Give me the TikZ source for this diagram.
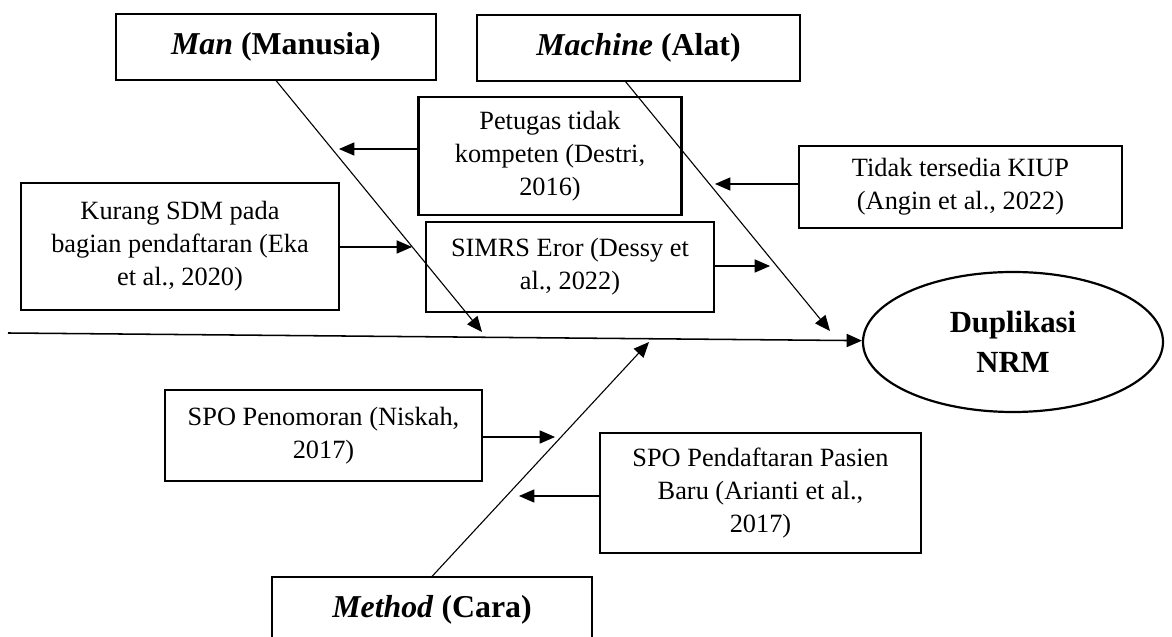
\documentclass[tikz,border=0pt]{standalone}
\usepackage{fontspec}
\setmainfont{Liberation Serif}
\usetikzlibrary{arrows.meta}
\usetikzlibrary{shapes.geometric}
\newcommand{\px}{0.016cm}
\tikzset{
  head/.style={draw,line width=0.5pt,minimum height=66*\px,inner sep=0pt,font=\fontsize{14.5}{17}\selectfont\bfseries},
  cause/.style={draw,line width=1pt,align=center,inner sep=0pt,font=\fontsize{12}{15}\selectfont},
  bone/.style={line width=0.5pt,-{Triangle[length=7pt,width=6pt]}},
}

\begin{document}
\begin{tikzpicture}[x=0.016cm,y=-0.016cm]
	\useasboundingbox (0,0) rectangle (1172,637);
	% categories and effect
	\node[head,minimum width=320*\px] (man) at (276,47) {\textit{Man} (Manusia)};
	\node[head,minimum width=323*\px] (machine) at (638.5,48) {\textit{Machine} (Alat)};
	\node[head,minimum width=320*\px] (method) at (432,610) {\textit{Method} (Cara)};
	\node[draw,ellipse,line width=1pt,minimum width=300*\px,minimum height=140*\px,inner sep=0pt,align=center,font=\fontsize{14}{18}\selectfont\bfseries] (dup) at (1013,342) {Duplikasi\\NRM};
	% causes
	\node[cause,minimum width=263*\px,minimum height=118*\px] (petugas) at (550,156) {Petugas tidak\\kompeten (Destri,\\2016)};
	\node[cause,minimum width=323*\px,minimum height=82*\px] (tidak) at (960.5,187) {Tidak tersedia KIUP\\(Angin et al., 2022)};
	\node[cause,minimum width=318*\px,minimum height=127*\px] (kurang) at (180,246.5) {Kurang SDM pada\\bagian pendaftaran (Eka\\et al., 2020)};
	\node[cause,minimum width=288*\px,minimum height=90*\px] (simrs) at (570,267) {SIMRS Eror (Dessy et\\al., 2022)};
	\node[cause,minimum width=317*\px,minimum height=91*\px] (penomoran) at (323.5,435.5) {SPO Penomoran (Niskah,\\2017)};
	\node[cause,minimum width=321*\px,minimum height=120*\px] (pendaftaran) at (760.5,493) {SPO Pendaftaran Pasien\\Baru (Arianti et al.,\\2017)};
	% bones
	\coordinate (tail) at (8,333);
	\coordinate (mantip) at (482,332);
	\coordinate (machtip) at (830,331);
	\coordinate (methtip) at (649,342);
	\draw[bone,line width=0.7pt] (tail) -- (dup);
	\draw[bone] (man.south) -- (mantip);
	\draw[bone] ([xshift=-13*\px]machine.south) -- (machtip);
	\draw[bone] (method.north) -- (methtip);
	% small arrows
	\coordinate (p1) at (339,149);
	\coordinate (t1) at (715,184);
	\coordinate (k1) at (412,247);
	\coordinate (s1) at (770,266);
	\coordinate (n1) at (555,437);
	\coordinate (d1) at (519,496);
	\draw[bone] (petugas.west |- p1) -- (p1);
	\draw[bone] (tidak.west |- t1) -- (t1);
	\draw[bone] (kurang.east |- k1) -- (k1);
	\draw[bone] (simrs.east |- s1) -- (s1);
	\draw[bone] (penomoran.east |- n1) -- (n1);
	\draw[bone] (pendaftaran.west |- d1) -- (d1);
\end{tikzpicture}
\end{document}
